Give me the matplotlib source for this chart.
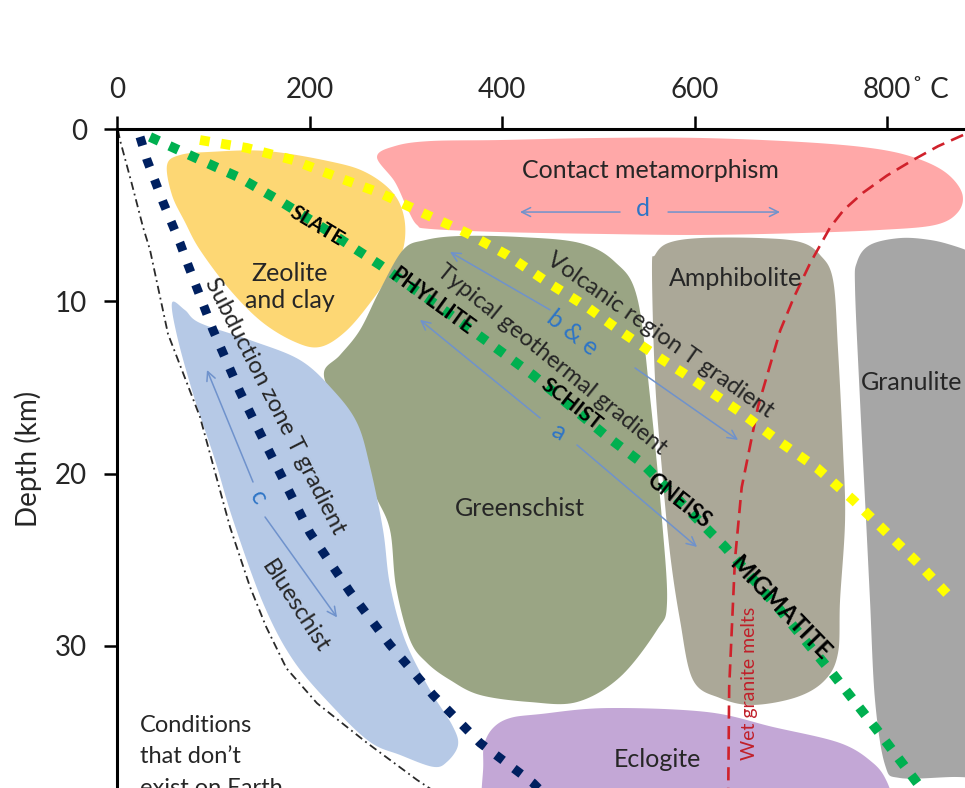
import numpy as np
import matplotlib
matplotlib.use('Agg')
import matplotlib.pyplot as plt
from matplotlib.patches import Polygon

plt.rcParams['font.family'] = ['Lato', 'DejaVu Sans']

# ---------------- axis data ----------------
x_ticks = [0, 200, 400, 600, 800]
x_tick_labels = ['0', '200', '400', '600', '800']
x_unit = '˚ C'
y_ticks = [0, 10, 20, 30]
y_tick_labels = ['0', '10', '20', '30']
y_label = 'Depth (km)'
x_max = 881
y_max = 38.25

# ---------------- facies regions (temperature °C, depth km) ----------------
zeolite_T = [52.0, 65.5, 96.6, 155.8, 224.4, 259.7, 286.8, 298.2, 298.2, 287.8, 262.9, 236.9, 210.9, 184.9, 150.6, 117.4, 86.2, 70.6, 57.1]
zeolite_D = [2.09, 1.51, 1.33, 1.28, 1.92, 2.55, 3.71, 5.11, 6.73, 8.07, 10.1, 11.78, 12.65, 12.36, 11.2, 9.34, 7.02, 5.40, 3.83]

contact_T = [270.1, 288.8, 325.2, 397.9, 501.8, 605.7, 709.6, 782.3, 827.0, 860.3, 877.9, 873.8, 849.9, 792.7, 709.6, 605.7, 501.8, 397.9, 325.2, 311.7, 302.3, 288.8]
contact_D = [1.63, 0.99, 0.70, 0.64, 0.52, 0.52, 0.75, 1.10, 1.63, 2.50, 3.71, 4.82, 5.57, 5.86, 6.04, 6.15, 6.09, 5.98, 5.80, 5.57, 4.70, 3.08]

greenschist_T = [297.1, 273.2, 252.5, 231.7, 215.1, 224.4, 247.3, 268.1, 283.6, 289.9, 304.4, 322.1, 346.0, 377.1, 429.1, 477.9, 522.6, 561.0, 571.4, 566.2, 553.8, 540.3, 517.4, 481.0, 418.7, 356.4, 320.0]
greenschist_D = [7.02, 9.34, 11.66, 13.12, 14.10, 15.73, 18.63, 21.24, 23.27, 26.58, 29.66, 30.99, 31.98, 32.85, 33.26, 33.26, 31.81, 29.08, 27.51, 22.69, 15.56, 9.76, 7.72, 6.62, 6.27, 6.21, 6.45]

amphibolite_T = [555.8, 559.0, 572.5, 605.7, 668.1, 709.6, 730.4, 743.9, 749.1, 754.3, 756.4, 751.2, 749.1, 735.6, 706.5, 660.8, 626.5, 598.4, 584.9, 574.5, 566.2, 559.0]
amphibolite_D = [8.18, 7.31, 6.62, 6.33, 6.33, 6.56, 7.31, 8.76, 12.83, 18.63, 22.69, 27.34, 30.41, 31.98, 32.97, 33.43, 33.03, 31.98, 28.50, 24.61, 19.79, 14.57]

granulite_T = [766.8, 768.8, 782.3, 813.5, 844.7, 870.6, 900.0, 930.0, 930.0, 900.0, 870.6, 813.5, 797.9, 787.5, 782.3, 778.2, 771.9]
granulite_D = [9.34, 7.72, 6.73, 6.33, 6.44, 6.80, 7.40, 8.00, 37.70, 37.70, 37.61, 37.67, 36.91, 33.14, 27.34, 22.69, 15.73]

blueschist_T = [57.1, 70.6, 86.2, 138.2, 190.1, 224.4, 249.4, 262.9, 276.4, 283.6, 299.2, 325.2, 348.1, 354.3, 342.9, 328.3, 294.0, 262.9, 224.4, 182.9, 151.7, 120.5, 101.8, 81.0, 63.4]
blueschist_D = [10.10, 10.51, 11.26, 12.25, 13.41, 15.15, 17.06, 19.61, 23.27, 26.46, 29.66, 32.56, 34.59, 35.75, 36.73, 37.02, 36.33, 35.58, 33.55, 30.82, 27.51, 22.69, 19.21, 15.73, 12.25]

eclogite_T = [380.5, 381.3, 390.6, 408.3, 439.5, 509.1, 613.0, 681.6, 751.2, 785.5, 800.0, 806.0, 806.0, 600.0, 400.0, 380.0]
eclogite_D = [37.0, 35.75, 34.77, 34.19, 33.96, 33.61, 33.84, 34.71, 35.64, 36.80, 37.90, 39.2, 41.0, 41.0, 41.0, 39.5]

# ---------------- gradients ----------------
geotherm_T = [34.3, 84.2, 127.8, 169.4, 210.9, 252.5, 273.2, 351.2, 432.2, 507.0, 545.5, 616.1, 631.7, 688.8, 742.9, 789.6, 844.7]
geotherm_D = [0.46, 1.74, 2.84, 4.18, 5.63, 7.14, 7.89, 10.97, 14.28, 17.76, 19.39, 23.39, 24.26, 27.92, 31.57, 34.88, 38.94]

volcanic_T = [86.2, 135.1, 182.9, 228.6, 273.2, 317.9, 363.6, 405.2, 446.8, 488.3, 525.7, 567.3, 588.1, 647.3, 688.8, 727.3, 764.7, 800.0, 834.3, 865.5]
volcanic_D = [0.64, 1.10, 1.80, 2.79, 3.71, 4.88, 6.04, 7.31, 8.88, 10.33, 11.84, 13.41, 14.16, 16.42, 18.17, 19.68, 21.53, 23.45, 25.31, 27.16]

subduction_T = [23.9, 31.2, 47.8, 65.5, 73.8, 99.7, 127.8, 148.6, 190.1, 200.5, 242.1, 283.6, 328.3, 377.1, 432.2, 444.7]
subduction_D = [0.46, 1.80, 4.24, 6.62, 7.89, 11.66, 15.26, 17.64, 22.29, 23.44, 26.87, 29.94, 32.85, 35.63, 37.96, 38.66]

limit_T = [1.0, 3.1, 15.0, 27.0, 34.3, 53.0, 86.2, 117.4, 138.2, 155.0, 176.0, 207.8, 259.7, 311.7, 327.3]
limit_D = [0.06, 0.64, 3.10, 5.69, 7.02, 11.9, 16.71, 23.10, 26.58, 28.9, 31.3, 33.33, 35.63, 37.78, 38.36]

granite_T = [879, 853, 827, 800, 775, 755, 741, 720, 703, 689, 666, 649, 642, 636, 635]
granite_D = [0.35, 1.0, 1.8, 2.7, 3.7, 4.7, 5.7, 7.8, 9.8, 11.7, 16.1, 20.8, 25.0, 32.4, 38.6]

# ---------------- arrows: (head T, head D, tail T, tail D) ----------------
arrow_segments = {
    'a': [(314.8, 11.08, 439.5, 16.77), (602.6, 24.26, 477.9, 18.34)],
    'b & e': [(346.0, 7.14, 449.9, 10.50), (645.2, 18.05, 538.2, 13.87)],
    'c': [(93.5, 13.99, 141.3, 20.49), (228.6, 28.35, 153.8, 22.52)],
    'd': [(418.7, 4.82, 522.6, 4.82), (688.8, 4.82, 572.5, 4.82)],
}
arrow_labels = ['a', 'b & e', 'c', 'd']
arrow_label_T = [458.2, 472.7, 146.5, 546.5]
arrow_label_D = [17.59, 11.84, 21.36, 4.60]
arrow_label_rot = [-30, -38, -60, 0]

# ---------------- text labels ----------------
facies_names = ['Contact metamorphism', 'Zeolite\nand clay', 'Amphibolite', 'Granulite', 'Greenschist', 'Eclogite']
facies_T = [553.8, 179.7, 642.1, 826.0, 418.7, 561.0]
facies_D = [2.38, 9.17, 8.65, 14.74, 22.0, 36.62]

rock_names = ['SLATE', 'PHYLLITE', 'SCHIST', 'GNEISS', 'MIGMATITE']
rock_T = [207.8, 327.3, 471.7, 583.9, 688.8]
rock_D = [5.63, 10.0, 16.0, 21.6, 27.8]
rock_rot = [-31, -36, -38, -38, -46]
rock_size = [14.5, 15.5, 15, 15.5, 17]

gradient_names = ['Typical geothermal gradient', 'Volcanic region T gradient', 'Subduction zone T gradient', 'Blueschist']
gradient_T = [452.0, 564.2, 164.2, 184.9]
gradient_D = [13.4, 11.96, 16.08, 27.7]
gradient_rot = [-39, -35, -63, -57]


def smooth_closed(T, D, n=14):
    P = np.column_stack([T, D]).astype(float)
    N = len(P)
    t = np.linspace(0, 1, n, endpoint=False)[:, None]
    out = []
    for i in range(N):
        p0, p1, p2, p3 = P[(i - 1) % N], P[i], P[(i + 1) % N], P[(i + 2) % N]
        out.append(0.5 * ((2 * p1) + (-p0 + p2) * t + (2 * p0 - 5 * p1 + 4 * p2 - p3) * t ** 2
                          + (-p0 + 3 * p1 - 3 * p2 + p3) * t ** 3))
    return np.vstack(out)


fig = plt.figure(figsize=(9.65, 7.88), dpi=100)
ax = fig.add_axes([117 / 965, 0, 1 - 117 / 965, 1 - 129 / 788])
ax.set_xlim(0, x_max)
ax.set_ylim(y_max, 0)

regions = [
    (zeolite_T, zeolite_D, '#FDD774'),
    (contact_T, contact_D, '#FFA8A8'),
    (greenschist_T, greenschist_D, '#9AA584'),
    (amphibolite_T, amphibolite_D, '#ABA898'),
    (granulite_T, granulite_D, '#A6A6A6'),
    (blueschist_T, blueschist_D, '#B6C9E6'),
    (eclogite_T, eclogite_D, '#C3A7D6'),
]
for T, D, col in regions:
    ax.add_patch(Polygon(smooth_closed(T, D), closed=True, facecolor=col, edgecolor='none', zorder=1))

# lines
ax.plot(limit_T, limit_D, color='#2a2a2a', lw=1.3, linestyle=(0, (4.5, 2.2, 1, 2.2)), zorder=3)
ax.plot(granite_T, granite_D, color='#D0212B', lw=1.9, linestyle=(0, (5, 2.8)), zorder=3)
ax.plot(subduction_T, subduction_D, color='#002060', lw=6.5, linestyle=(0, (1, 1.5)),
        dash_capstyle='butt', zorder=4)
ax.plot(volcanic_T, volcanic_D, color='#FFFF00', lw=7, linestyle=(0, (1, 1.2)),
        dash_capstyle='butt', zorder=4)
ax.plot(geotherm_T, geotherm_D, color='#00B050', lw=7, linestyle=(0, (1, 1.2)),
        dash_capstyle='butt', zorder=4)

# arrows
for key, segs in arrow_segments.items():
    for hT, hD, tT, tD in segs:
        ax.annotate('', xy=(hT, hD), xytext=(tT, tD),
                    arrowprops=dict(arrowstyle='->', color='#6F92CC', lw=1.1,
                                    shrinkA=0, shrinkB=0, mutation_scale=16), zorder=3)
for lab, T, D, r in zip(arrow_labels, arrow_label_T, arrow_label_D, arrow_label_rot):
    ax.text(T, D, lab, color='#2E75C6', fontsize=18, rotation=r, ha='center', va='center',
            rotation_mode='anchor', zorder=5)

txt_col = '#262626'
for lab, T, D in zip(facies_names, facies_T, facies_D):
    ax.text(T, D, lab, color=txt_col, fontsize=18, ha='center', va='center', zorder=5,
            linespacing=1.2)
for lab, T, D, r, fs in zip(rock_names, rock_T, rock_D, rock_rot, rock_size):
    ax.text(T, D, lab, color='black', fontsize=fs, fontweight='bold', rotation=r,
            ha='center', va='center', rotation_mode='anchor', zorder=5)
for lab, T, D, r in zip(gradient_names, gradient_T, gradient_D, gradient_rot):
    ax.text(T, D, lab, color=txt_col, fontsize=17, rotation=r, ha='center', va='center',
            rotation_mode='anchor', zorder=5)

ax.text(657.0, 32.15, 'Wet granite melts', color='#C0202A', fontsize=14, rotation=90,
        ha='center', va='center', zorder=5)
ax.text(23.9, 34.0, 'Conditions\nthat don’t\nexist on Earth', color=txt_col, fontsize=17,
        ha='left', va='top', linespacing=1.62, zorder=5)

# axes styling
for s in ['right', 'bottom']:
    ax.spines[s].set_visible(False)
for s in ['top', 'left']:
    ax.spines[s].set_linewidth(2.2)
    ax.spines[s].set_zorder(6)
ax.xaxis.set_ticks_position('top')
ax.xaxis.set_label_position('top')
ax.set_xticks(x_ticks)
ax.set_xticklabels(x_tick_labels, fontsize=20, color=txt_col)
ax.set_yticks(y_ticks)
ax.set_yticklabels(y_tick_labels, fontsize=20, color=txt_col)
ax.tick_params(axis='x', direction='out', length=9.5, width=1.8, pad=9)
ax.tick_params(axis='y', direction='out', length=9.5, width=1.8, pad=12)
ax.set_ylabel(y_label, fontsize=20, color=txt_col, labelpad=9)
ax.annotate(x_unit, xy=(800, 0), xycoords='data', xytext=(18, 18.5), textcoords='offset points',
            fontsize=20, color=txt_col, ha='left', va='bottom', annotation_clip=False)

fig.savefig('out.png', dpi=100)
